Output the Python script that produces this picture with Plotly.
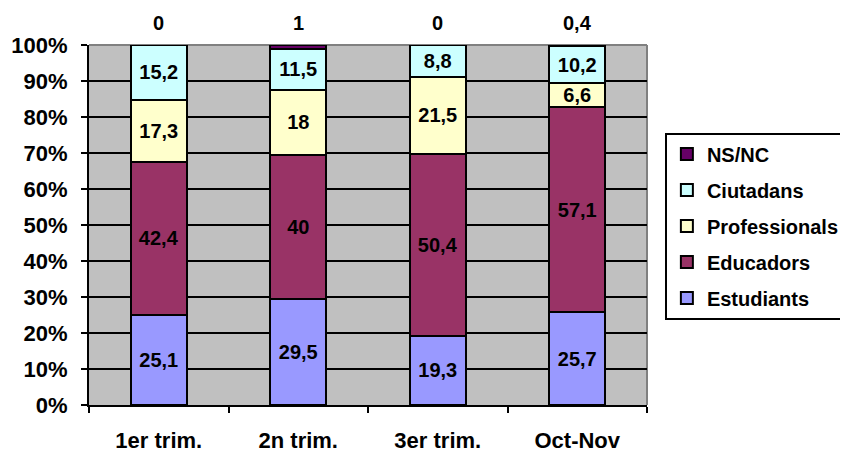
import plotly.graph_objects as go

categories = ["1er trim.", "2n trim.", "3er trim.", "Oct-Nov"]
estudiants = [25.1, 29.5, 19.3, 25.7]
educadors = [42.4, 40, 50.4, 57.1]
professionals = [17.3, 18, 21.5, 6.6]
ciutadans = [15.2, 11.5, 8.8, 10.2]
nsnc = [0, 1, 0, 0.4]

series = [
    ("Estudiants", estudiants, "#9999FF"),
    ("Educadors", educadors, "#993366"),
    ("Professionals", professionals, "#FFFFCC"),
    ("Ciutadans", ciutadans, "#CCFFFF"),
    ("NS/NC", nsnc, "#660066"),
]

FONT = "Liberation Sans, Arial, sans-serif"


def fmt(v):
    return f"{v:g}".replace(".", ",")


fig = go.Figure()
n = len(series)
for i, (name, vals, color) in enumerate(series):
    is_top = name == "NS/NC"
    fig.add_trace(go.Bar(
        name=name,
        x=categories,
        y=vals,
        width=0.4,
        marker=dict(color=color, line=dict(color="black", width=2)),
        text=None if is_top else [fmt(v) for v in vals],
        textposition="inside",
        insidetextanchor="middle",
        constraintext="none",
        textangle=0,
        textfont=dict(family=FONT, size=20, color="black", weight="bold"),
        legendgroup=name,
        legendrank=n - i,
        hoverinfo="skip",
    ))

annotations = []
for c, v in zip(categories, nsnc):
    annotations.append(dict(
        x=c, y=100, xref="x", yref="y", text=fmt(v), showarrow=False,
        yanchor="bottom", yshift=9,
        font=dict(family=FONT, size=20, color="black", weight="bold"),
    ))

# the page body adds an 8px offset, so the figure is 8px smaller than the window
fig.update_layout(
    width=840, height=444,
    margin=dict(l=81, r=201, t=37, b=47),
    barmode="stack",
    paper_bgcolor="white",
    plot_bgcolor="#C0C0C0",
    font=dict(family=FONT, size=20, color="black"),
    showlegend=True,
    legend=dict(
        xref="container", yref="container",
        x=0.782, y=0.7195, xanchor="left", yanchor="top",
        traceorder="grouped", tracegroupgap=7,
        bgcolor="white", bordercolor="black", borderwidth=2,
        font=dict(family=FONT, size=20, color="black", weight="bold"),
    ),
    annotations=annotations,
    xaxis=dict(
        type="category",
        range=[-0.5, 3.5],
        automargin=False,
        showline=True, linecolor="black", linewidth=2,
        ticks="outside", tickson="boundaries", ticklen=6,
        tickcolor="black", tickwidth=2,
        showgrid=False,
        ticklabelstandoff=15,
        tickfont=dict(family=FONT, size=22, color="black", weight="bold"),
    ),
    yaxis=dict(
        range=[0, 100], dtick=10, ticksuffix="%",
        automargin=False,
        showline=True, linecolor="black", linewidth=2,
        ticks="outside", ticklen=6, tickcolor="black", tickwidth=2,
        showgrid=True, gridcolor="black", gridwidth=2,
        zeroline=False,
        ticklabelstandoff=9,
        tickfont=dict(family=FONT, size=22, color="black", weight="bold"),
    ),
    shapes=[
        dict(type="line", xref="paper", yref="paper", x0=0, x1=1, y0=1, y1=1,
             line=dict(color="#808080", width=2), layer="below"),
        dict(type="line", xref="paper", yref="paper", x0=1, x1=1, y0=0, y1=1,
             line=dict(color="#808080", width=2), layer="below"),
    ],
)

fig.write_html("out.html")
